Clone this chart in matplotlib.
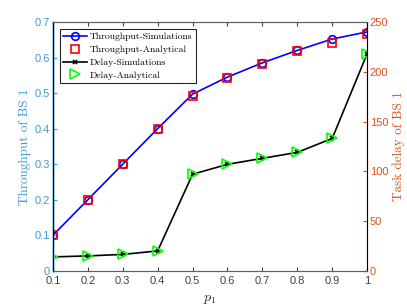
import numpy as np
import matplotlib.pyplot as plt

plt.rcParams['mathtext.fontset'] = 'cm'
plt.rcParams['font.family'] = ['Liberation Sans', 'DejaVu Sans']

p1 = [0.1, 0.2, 0.3, 0.4, 0.5, 0.6, 0.7, 0.8, 0.9, 1.0]
thr_sim = [0.1, 0.2, 0.3, 0.4, 0.497, 0.545, 0.585, 0.62, 0.652, 0.672]
thr_ana = [0.1, 0.2, 0.3, 0.4, 0.493, 0.543, 0.583, 0.617, 0.642, 0.665]
delay_sim = [14, 15, 16.5, 20, 97, 107, 113, 119, 133, 218]
delay_ana = [14, 15, 16.5, 20, 97, 107, 113, 119, 133, 218]

blue_ax = '#3d9ad6'
orange_ax = '#d95319'
serif = 'cmr10'

fig = plt.figure(figsize=(4.07, 3.05), dpi=100)
ax = fig.add_axes([0.13, 0.112, 0.772, 0.816])
ax2 = ax.twinx()

l1, = ax.plot(p1, thr_sim, '-o', color='#0000ff', lw=1.2, ms=5.5, mfc='none', mew=1.2,
              label='Throughput-Simulations')
l2, = ax.plot(p1, thr_ana, 's', color='#ff0000', ms=5.5, mfc='none', mew=1.2,
              label='Throughput-Analytical', linestyle='none')
l3, = ax2.plot(p1, delay_sim, '-x', color='black', lw=1.2, ms=3, mew=1.2,
               label='Delay-Simulations')
l4, = ax2.plot(p1, delay_ana, '>', color='#00ff00', ms=6.5, mfc='none', mew=1.2,
               label='Delay-Analytical', linestyle='none')

ax.set_xlim(0.1, 1)
ax.set_ylim(0, 0.7)
ax2.set_ylim(0, 250)
ax.set_xticks(p1)
ax.set_xticklabels(['0.1', '0.2', '0.3', '0.4', '0.5', '0.6', '0.7', '0.8', '0.9', '1'])
ax.set_yticks(np.arange(0, 0.71, 0.1))
ax.set_yticklabels(['0', '0.1', '0.2', '0.3', '0.4', '0.5', '0.6', '0.7'])
ax2.set_yticks([0, 50, 100, 150, 200, 250])

ax.tick_params(axis='x', direction='in', top=True, colors='#404040', labelsize=8, length=3, pad=4)
ax.tick_params(axis='y', direction='in', colors=blue_ax, labelsize=8, length=3, pad=2)
ax2.tick_params(axis='y', direction='in', colors=orange_ax, labelsize=8, length=3, pad=2)
for s in ['top', 'bottom']:
    ax.spines[s].set_color('#606060')
    ax2.spines[s].set_color('#606060')
ax2.spines['left'].set_color('#a8d4ee')
ax2.spines['left'].set_linewidth(2.0)
ax2.spines['right'].set_color(orange_ax)

ax.set_xlabel('$p_1$', fontsize=10, color='#262626', labelpad=4)
ax.set_ylabel('Throughput of BS 1', fontsize=9.5, color=blue_ax, family=serif, labelpad=3)
ax2.set_ylabel('Task delay of BS 1', fontsize=9.5, color=orange_ax, family=serif, labelpad=3)

leg = ax.legend(handles=[l1, l2, l3, l4], loc='upper left',
                prop={'family': serif, 'size': 7}, fancybox=False,
                edgecolor='#262626', framealpha=1, borderpad=0.35, labelspacing=0.42,
                handlelength=2.4, handletextpad=0.3, borderaxespad=0,
                bbox_to_anchor=(0.022, 0.972))
leg.get_frame().set_linewidth(0.8)

ax.set_zorder(ax2.get_zorder() + 1)
ax.patch.set_visible(False)

fig.savefig('out.png', dpi=100)
